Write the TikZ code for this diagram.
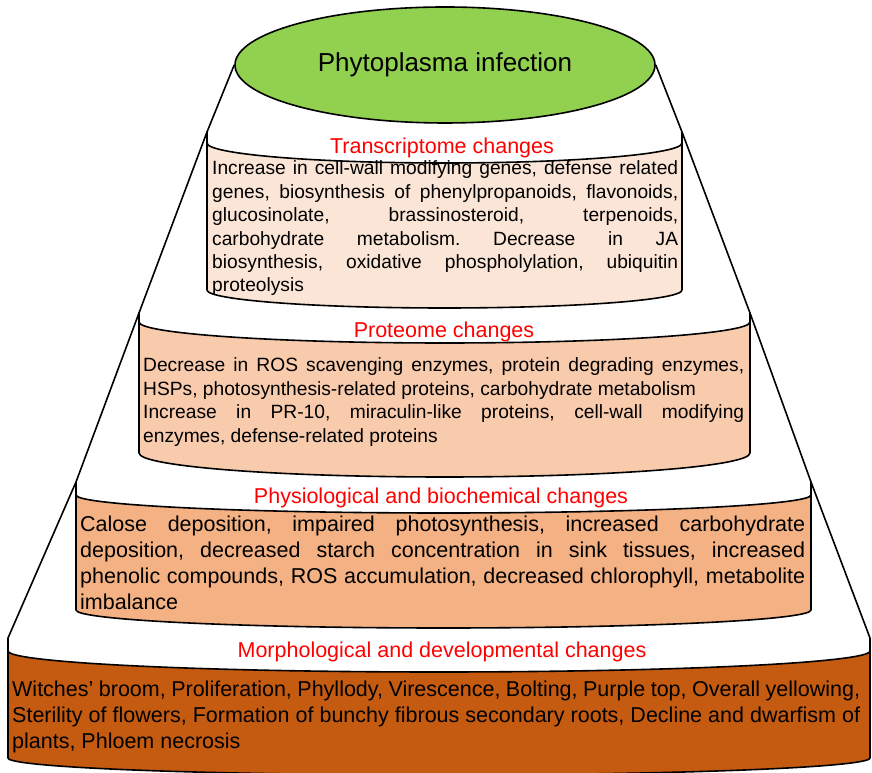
\documentclass[tikz,border=0pt]{standalone}
\usepackage{fontspec}
\setmainfont{Liberation Sans}
\usetikzlibrary{shapes.geometric}
\frenchspacing

\definecolor{leafgreen}{HTML}{92D050}
\definecolor{peachA}{HTML}{FBE5D6}
\definecolor{peachB}{HTML}{F8CBAD}
\definecolor{peachC}{HTML}{F4B183}
\definecolor{rust}{HTML}{C55A11}

% one slice of the cone: colour, left, right, side top, rim, rim depth, bottom, bottom depth
\newcommand{\canband}[8]{%
	\fill[#1] (#2,#5) arc[start angle=180, end angle=360, x radius={(#3-#2)/2}, y radius=#6]
		-- (#3,#7) arc[start angle=0, end angle=-180, x radius={(#3-#2)/2}, y radius=#8] -- cycle;
	\draw[outline] (#2,#4) -- (#2,#7) arc[start angle=180, end angle=360, x radius={(#3-#2)/2}, y radius=#8] -- (#3,#4);
	\draw[outline] (#2,#5) arc[start angle=180, end angle=360, x radius={(#3-#2)/2}, y radius=#6];
}

\begin{document}
\begin{tikzpicture}[x=1pt, y=1pt,
	outline/.style={draw=black, line width=1.6pt, line join=round},
	title/.style={anchor=base, inner sep=0pt, text=red, font=\fontsize{21.5}{26}\selectfont},
	body/.style={anchor=base west, inner sep=0pt, align=justify, font=\fontsize{19.2}{23.4}\selectfont},
	bigbody/.style={body, font=\fontsize{21.5}{25.8}\selectfont}]
	\useasboundingbox (0,0) rectangle (872,773);
	
	% top of the cone
	\node[ellipse, outline, fill=leafgreen, minimum width=420pt, minimum height=116pt, inner sep=0pt,
		font=\fontsize{26}{30}\selectfont] (infection) at (445,708) {Phytoplasma infection};
	
	\draw[outline] (infection.west) -- (207,641) -- (139,460) -- (76,291) -- (8,135);
	\draw[outline] (infection.east) -- (682,641) -- (750,460) -- (811,291) -- (870,135);
	
	\canband{peachA}{207}{682}{641}{630}{20}{483}{18}
	\canband{peachB}{139}{750}{460}{451}{21}{320}{24}
	\canband{peachC}{76}{811}{291}{278}{18}{163}{18}
	\canband{rust}{8}{870}{135}{122}{21}{15}{17}
	
	\node[title] (transcriptome) at (442,619) {Transcriptome changes};
	\node[body, text width=466pt] (transcriptomeText) at (212,598) {Increase in cell-wall modifying genes, defense related\linebreak
		genes, biosynthesis of phenylpropanoids, flavonoids,\linebreak
		glucosinolate, brassinosteroid, terpenoids,\linebreak
		carbohydrate metabolism. Decrease in JA\linebreak
		biosynthesis, oxidative phospholylation, ubiquitin\linebreak
		proteolysis};
	
	\node[title] (proteome) at (444,435) {Proteome changes};
	\node[body, text width=601pt] (proteomeText) at (143,401) {Decrease in ROS scavenging enzymes, protein degrading enzymes,\linebreak
		HSPs, photosynthesis-related proteins, carbohydrate metabolism\\
		Increase in PR-10, miraculin-like proteins, cell-wall modifying\linebreak
		enzymes, defense-related proteins};
	
	\node[title] (physiology) at (441,269) {Physiological and biochemical changes};
	\node[bigbody, text width=725pt] (physiologyText) at (80,241) {Calose deposition, impaired photosynthesis, increased carbohydrate\linebreak
		deposition, decreased starch concentration in sink tissues, increased\linebreak
		phenolic compounds, ROS accumulation, decreased chlorophyll, metabolite\linebreak
		imbalance};
	
	\node[title] (morphology) at (442,115) {Morphological and developmental changes};
	\node[bigbody, text width=848pt] (morphologyText) at (12,76) {Witches’ broom, Proliferation, Phyllody, Virescence, Bolting, Purple top, Overall yellowing,\linebreak
		Sterility of flowers, Formation of bunchy fibrous secondary roots, Decline and dwarfism of\linebreak
		plants, Phloem necrosis};
\end{tikzpicture}
\end{document}
